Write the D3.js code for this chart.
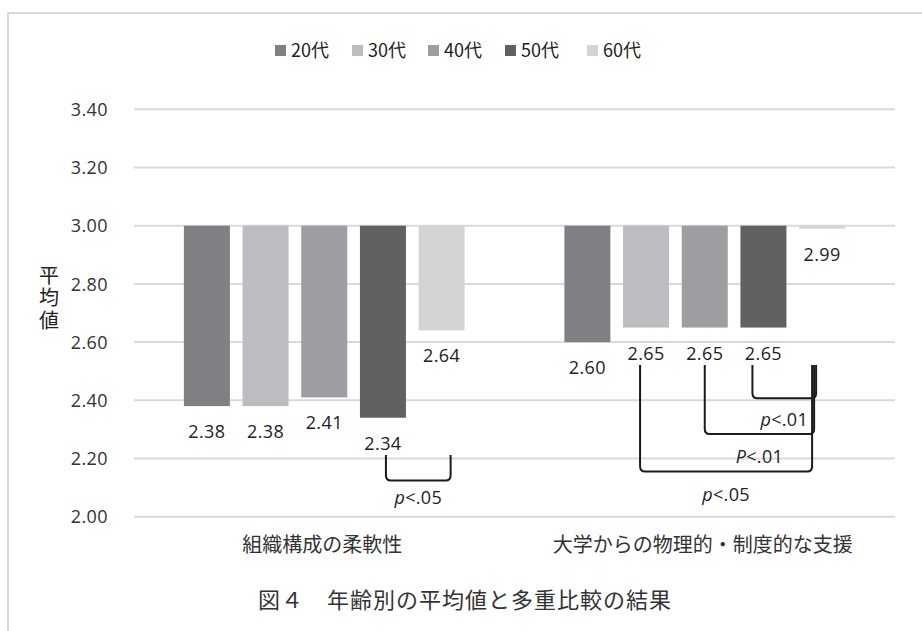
<!DOCTYPE html>
<html>
<head>
<meta charset="utf-8">
<script src="https://cdn.jsdelivr.net/npm/d3@7"></script>
<style>
  html, body { margin: 0; padding: 0; background: #fff; }
  svg { display: block; }
</style>
</head>
<body>
<svg id="chart" width="922" height="631"></svg>
<script>
// Categories, age groups and mean scores
const categories = ["組織構成の柔軟性", "大学からの物理的・制度的な支援"];
const ageGroups = ["20代", "30代", "40代", "50代", "60代"];
const values20 = [2.38, 2.60];
const values30 = [2.38, 2.65];
const values40 = [2.41, 2.65];
const values50 = [2.34, 2.65];
const values60 = [2.64, 2.99];
const seriesValues = [values20, values30, values40, values50, values60];
const yTicks = [2.00, 2.20, 2.40, 2.60, 2.80, 3.00, 3.20, 3.40];
const baseline = 3.00;

// Multiple-comparison results: category, pair of age groups, significance label
const comparisons = [
  { cat: 0, from: 3, to: 4, top: 2.212, bottom: 2.124, label: ["p", "<.05"], labelAt: 2.064, dxL: 3, dxR: 9 },
  { cat: 1, from: 3, to: 4, top: 2.521, bottom: 2.407, label: ["p", "<.01"], labelAt: 2.332, dxL: -11, dxR: -6 },
  { cat: 1, from: 2, to: 4, top: 2.521, bottom: 2.284, label: ["P", "<.01"], labelAt: 2.206, dxL: 0, dxR: -8 },
  { cat: 1, from: 1, to: 4, top: 2.521, bottom: 2.155, label: ["p", "<.05"], labelAt: 2.075, dxL: -6, dxR: -10 }
];

const colors = ["#808084", "#bcbdc0", "#9d9ea1", "#616163", "#d3d4d6"];

const svg = d3.select("#chart");
const plotLeft = 134, plotRight = 895, plotTop = 109.3, plotBottom = 516.7;
const numFont = "'Open Sans', 'Noto Sans', sans-serif";
const jpFont = "'Noto Sans CJK JP', sans-serif";

// frame
svg.append("path")
  .attr("d", "M8,631 L8,13 L922,13")
  .attr("fill", "none").attr("stroke", "#d9d9d9").attr("stroke-width", 2);

const y = d3.scaleLinear().domain([2.0, 3.4]).range([plotBottom, plotTop]);
const x0 = d3.scaleBand().domain(categories).range([plotLeft, plotRight]).paddingInner(0).paddingOuter(0);
const x1 = d3.scaleBand().domain(ageGroups).range([0, x0.bandwidth()]).paddingInner(0.216).paddingOuter(0.85);

// gridlines
svg.append("g").selectAll("line").data(yTicks).join("line")
  .attr("x1", plotLeft).attr("x2", plotRight)
  .attr("y1", d => y(d)).attr("y2", d => y(d))
  .attr("stroke", "#d9d9d9").attr("stroke-width", 2);

// y axis labels
const yAxis = d3.axisLeft(y).tickValues(yTicks).tickFormat(d3.format(".2f")).tickSize(0).tickPadding(0);
const yg = svg.append("g").attr("transform", "translate(108,0)").call(yAxis);
yg.select(".domain").remove();
yg.selectAll("text")
  .attr("font-family", numFont)
  .attr("font-size", 18).attr("fill", "#333").attr("letter-spacing", 0.4)
  .attr("dy", "0.34em");

// y axis title, written vertically
svg.append("text")
  .attr("x", 49).attr("y", 265)
  .attr("font-family", jpFont)
  .attr("font-size", 20).attr("fill", "#222")
  .attr("letter-spacing", 2.5)
  .style("writing-mode", "vertical-rl")
  .style("text-orientation", "upright")
  .text("平均値");

// bars hanging from the 3.00 baseline
const groups = svg.append("g").selectAll("g").data(categories).join("g")
  .attr("transform", d => `translate(${x0(d)},0)`);

groups.each(function(cat, ci) {
  const g = d3.select(this);
  const rows = ageGroups.map((a, si) => ({ age: a, si, v: seriesValues[si][ci] }));
  g.selectAll("rect").data(rows).join("rect")
    .attr("x", d => x1(d.age))
    .attr("width", x1.bandwidth())
    .attr("y", d => Math.min(y(baseline), y(d.v)))
    .attr("height", d => Math.abs(y(d.v) - y(baseline)))
    .attr("fill", d => colors[d.si]);
  g.selectAll("text.val").data(rows).join("text")
    .attr("class", "val")
    .attr("x", d => x1(d.age) + x1.bandwidth() / 2)
    .attr("y", d => y(d.v) + 32)
    .attr("text-anchor", "middle")
    .attr("font-family", numFont)
    .attr("font-size", 18).attr("fill", "#222").attr("letter-spacing", 0.4)
    .text(d => d3.format(".2f")(d.v));
});

// category labels
svg.append("g").selectAll("text").data(categories).join("text")
  .attr("x", d => x0(d) + x0.bandwidth() / 2 - 2)
  .attr("y", 552)
  .attr("text-anchor", "middle")
  .attr("font-family", jpFont)
  .attr("font-size", 20).attr("fill", "#333")
  .text(d => d);

// significance brackets
const bx = (c, s) => x0(categories[c]) + x1(ageGroups[s]) + x1.bandwidth() / 2;
const br = svg.append("g");
comparisons.forEach(c => {
  const xl = bx(c.cat, c.from) + c.dxL;
  const xr = bx(c.cat, c.to) + c.dxR;
  const yt = y(c.top), yb = y(c.bottom), r = 5;
  br.append("path")
    .attr("d", `M${xl},${yt} L${xl},${yb - r} Q${xl},${yb} ${xl + r},${yb} L${xr - r},${yb} Q${xr},${yb} ${xr},${yb - r} L${xr},${yt}`)
    .attr("fill", "none").attr("stroke", "#1a1a1a").attr("stroke-width", 2);
  const t = br.append("text")
    .attr("x", (xl + xr) / 2)
    .attr("y", y(c.labelAt) + 6)
    .attr("text-anchor", "middle")
    .attr("font-family", numFont)
    .attr("font-size", 18).attr("fill", "#222").attr("letter-spacing", 0.3);
  t.append("tspan").attr("font-style", "italic").text(c.label[0]);
  t.append("tspan").text(c.label[1]);
});

// legend
const legendX = [275, 352, 428, 505, 587];
const lg = svg.append("g").selectAll("g").data(ageGroups).join("g")
  .attr("transform", (d, i) => `translate(${legendX[i]},45)`);
lg.append("rect").attr("width", 11).attr("height", 11).attr("fill", (d, i) => colors[i]);
lg.append("text").attr("x", 16).attr("y", 12)
  .attr("font-family", jpFont)
  .attr("font-size", 18).attr("fill", "#222")
  .text(d => d);

// figure caption
svg.append("text")
  .attr("x", 465).attr("y", 608)
  .attr("text-anchor", "middle")
  .attr("font-family", jpFont)
  .attr("font-size", 22).attr("fill", "#333").attr("letter-spacing", 1)
  .text("図４　年齢別の平均値と多重比較の結果");
</script>
</body>
</html>
